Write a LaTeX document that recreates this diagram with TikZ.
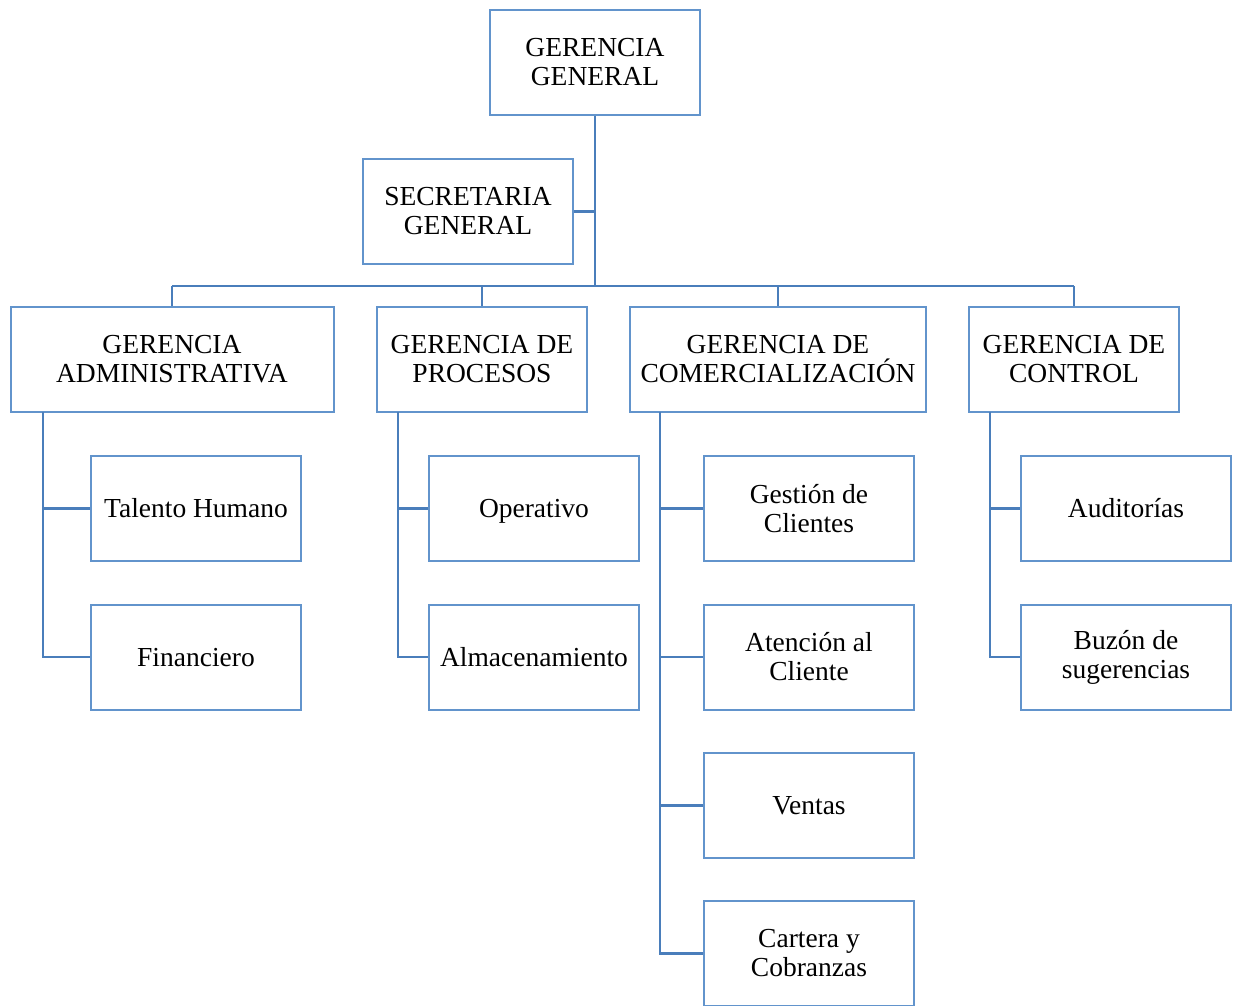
\documentclass[tikz,border=0pt]{standalone}
\usepackage{fontspec}
\setmainfont{Liberation Serif}
\definecolor{boxblue}{RGB}{98,148,204}
\definecolor{linkblue}{RGB}{74,126,187}
\newcommand\capstrut{\rule[-0.24em]{0pt}{1.14em}}
\begin{document}
\begin{tikzpicture}[x=1pt,y=-1pt,
  orgbox/.style={draw=boxblue,line width=2pt,fill=white,minimum width=210pt,minimum height=105pt,
    align=center,inner sep=2pt,font=\fontsize{27.5}{29}\selectfont},
  link/.style={draw=linkblue,line width=2.4pt}]
\useasboundingbox (0,0) rectangle (1243,1006);
\coordinate (bus) at (595,286);
\coordinate (busL) at (172,286);
\coordinate (busR) at (1074,286);
\coordinate (gaT) at (43,412);
\coordinate (gpT) at (398,412);
\coordinate (gcT) at (660,412);
\coordinate (gcoT) at (990,412);
% boxes
\node[orgbox] (gg) at (595,62.5) {GERENCIA\\GENERAL};
\node[orgbox] (sg) at (468,211.5) {SECRETARIA\\GENERAL};
\node[orgbox,minimum width=323pt] (ga) at (172,359.5) {GERENCIA\\ADMINISTRATIVA};
\node[orgbox] (gp) at (482,359.5) {GERENCIA DE\\PROCESOS};
\node[orgbox,minimum width=296pt] (gc) at (778,359.5) {GERENCIA DE\\COMERCIALIZACIÓN};
\node[orgbox] (gco) at (1074,359.5) {GERENCIA DE\\CONTROL};
\node[orgbox] (th) at (196,508.5) {\capstrut Talento Humano};
\node[orgbox] (fi) at (196,657) {\capstrut Financiero};
\node[orgbox] (op) at (534,508.5) {\capstrut Operativo};
\node[orgbox] (al) at (534,657) {\capstrut Almacenamiento};
\node[orgbox] (gcl) at (809,508.5) {Gestión de\\Clientes};
\node[orgbox] (ac) at (809,657) {Atención al\\Cliente};
\node[orgbox] (ve) at (809,805.5) {\capstrut Ventas};
\node[orgbox] (cc) at (809,953.5) {Cartera y\\Cobranzas};
\node[orgbox] (au) at (1126,508.5) {\capstrut Auditorías};
\node[orgbox] (bu) at (1126,657) {Buzón de\\sugerencias};
% connectors
\draw[link] (gg.south) -- (bus);
\draw[link] (sg.east) -- (sg.east -| bus);
\draw[link] (busL) -- (busR);
\draw[link] (busL) -- (ga.north);
\draw[link] (gp.north |- bus) -- (gp.north);
\draw[link] (gc.north |- bus) -- (gc.north);
\draw[link] (busR) -- (gco.north);
\draw[link] (gaT) |- (th.west);
\draw[link] (gaT) |- (fi.west);
\draw[link] (gpT) |- (op.west);
\draw[link] (gpT) |- (al.west);
\draw[link] (gcT) |- (gcl.west);
\draw[link] (gcT) |- (ac.west);
\draw[link] (gcT) |- (ve.west);
\draw[link] (gcT) |- (cc.west);
\draw[link] (gcoT) |- (au.west);
\draw[link] (gcoT) |- (bu.west);
\end{tikzpicture}
\end{document}
